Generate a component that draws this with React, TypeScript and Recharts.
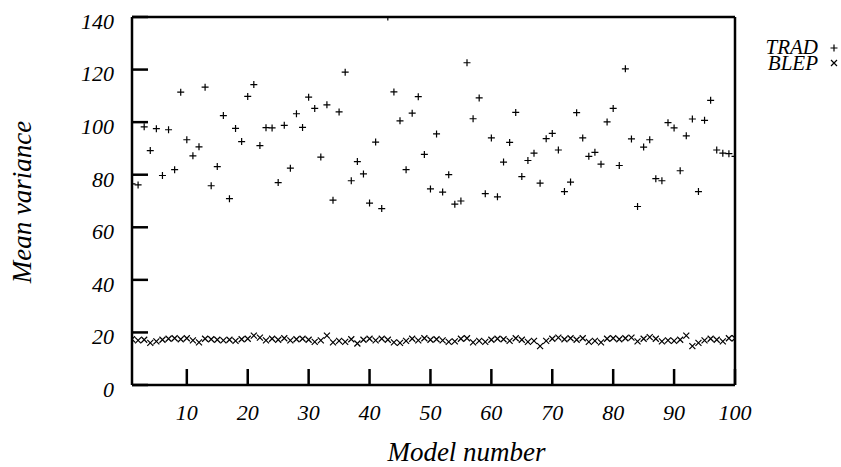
import React from 'react';
import { ScatterChart, Scatter, XAxis, YAxis, Legend } from 'recharts';

// Model numbers along the x axis
const modelNumbers = [
  1, 2, 3, 4, 5, 6, 7, 8, 9, 10,
  11, 12, 13, 14, 15, 16, 17, 18, 19, 20,
  21, 22, 23, 24, 25, 26, 27, 28, 29, 30,
  31, 32, 33, 34, 35, 36, 37, 38, 39, 40,
  41, 42, 43, 44, 45, 46, 47, 48, 49, 50,
  51, 52, 53, 54, 55, 56, 57, 58, 59, 60,
  61, 62, 63, 64, 65, 66, 67, 68, 69, 70,
  71, 72, 73, 74, 75, 76, 77, 78, 79, 80,
  81, 82, 83, 84, 85, 86, 87, 88, 89, 90,
  91, 92, 93, 94, 95, 96, 97, 98, 99, 100,
];

// Mean variance of the traditional estimator, one per model
const tradVariance = [
  76.5, 76.1, 98.2, 89.2, 97.5, 79.7, 97.1, 81.9, 111.4, 93.3,
  87.2, 90.6, 113.3, 75.8, 83.1, 102.5, 70.9, 97.6, 92.6, 109.8,
  114.3, 91.1, 97.9, 97.8, 77.0, 98.8, 82.5, 103.2, 98.0, 109.5,
  105.2, 86.7, 106.6, 70.3, 103.9, 119.0, 77.7, 85.0, 80.3, 69.2,
  92.4, 67.1, 140.0, 111.5, 100.5, 81.9, 103.4, 109.7, 87.7, 74.6,
  95.5, 73.4, 80.0, 68.8, 70.0, 122.6, 101.3, 109.2, 72.8, 94.0,
  71.6, 84.8, 92.3, 103.7, 79.3, 85.4, 88.2, 76.8, 93.7, 95.7,
  89.4, 73.6, 77.2, 103.6, 94.0, 87.0, 88.5, 84.0, 100.1, 105.2,
  83.5, 120.3, 93.6, 67.9, 90.5, 93.3, 78.5, 77.7, 99.8, 97.8,
  81.5, 94.8, 101.2, 73.6, 100.7, 108.3, 89.4, 88.2, 88.0, 87.0,
];

// Mean variance of the BLEP estimator, one per model
const blepVariance = [
  17.4, 17.0, 17.2, 16.0, 16.6, 17.2, 17.6, 17.8, 17.4, 17.8,
  17.0, 16.2, 17.6, 17.4, 17.2, 17.0, 17.2, 16.8, 17.4, 17.6,
  18.8, 18.0, 17.0, 17.6, 17.2, 17.8, 17.0, 17.4, 17.6, 17.2,
  16.4, 17.0, 18.8, 16.2, 16.8, 16.4, 17.4, 15.8, 17.2, 17.6,
  17.0, 17.6, 17.2, 16.2, 16.0, 16.8, 17.6, 17.0, 17.8, 17.2,
  17.4, 17.0, 16.4, 16.6, 17.6, 17.8, 16.2, 16.8, 16.4, 17.2,
  17.6, 17.4, 16.8, 17.8, 17.2, 16.4, 16.8, 14.8, 16.8, 17.6,
  18.0, 17.4, 17.8, 17.2, 17.8, 16.4, 16.8, 16.2, 17.6, 17.8,
  17.4, 17.8, 18.0, 16.6, 17.6, 18.2, 17.6, 16.6, 17.0, 16.8,
  17.2, 18.8, 14.8, 16.0, 17.0, 17.6, 17.2, 16.6, 17.8, 17.8,
];

const xTicks = [10, 20, 30, 40, 50, 60, 70, 80, 90, 100];
const yTicks = [0, 20, 40, 60, 80, 100, 120, 140];

const tradData = modelNumbers.map((m, i) => ({ model: m, value: tradVariance[i] }));
const blepData = modelNumbers.map((m, i) => ({ model: m, value: blepVariance[i] }));

const FONT = 'Liberation Serif';
const frameLine = { stroke: '#000', strokeWidth: 2.5 };
const tickStyle = { fill: '#000', fontSize: 22, fontStyle: 'italic', fontFamily: FONT };
const titleStyle = { fill: '#000', fontSize: 27, fontStyle: 'italic', fontFamily: FONT };

const PlusMark = (props: any) => {
  const { cx, cy } = props;
  if (cx == null || cy == null) return <g />;
  const r = 3.5;
  return (
    <path
      d={`M${cx - r},${cy}H${cx + r}M${cx},${cy - r}V${cy + r}`}
      stroke="#000"
      strokeWidth={1.2}
      fill="none"
    />
  );
};

const CrossMark = (props: any) => {
  const { cx, cy } = props;
  if (cx == null || cy == null) return <g />;
  const r = 3;
  return (
    <path
      d={`M${cx - r},${cy - r}L${cx + r},${cy + r}M${cx - r},${cy + r}L${cx + r},${cy - r}`}
      stroke="#000"
      strokeWidth={1.2}
      fill="none"
    />
  );
};

const XTitle = (props: any) => {
  const vb = props.viewBox || {};
  return (
    <text
      x={vb.x + vb.width / 2 + 33}
      y={vb.y + 67}
      textAnchor="middle"
      dominantBaseline="central"
      fill="#000"
      fontSize={titleStyle.fontSize}
      fontStyle="italic"
      fontFamily={FONT}
    >
      Model number
    </text>
  );
};

const YTitle = (props: any) => {
  const vb = props.viewBox || {};
  const x = vb.x + 22;
  const y = vb.y + vb.height / 2 + 1;
  return (
    <text
      x={x}
      y={y}
      transform={`rotate(-90, ${x}, ${y})`}
      textAnchor="middle"
      dominantBaseline="central"
      fill="#000"
      fontSize={titleStyle.fontSize}
      fontStyle="italic"
      fontFamily={FONT}
    >
      Mean variance
    </text>
  );
};

const legendRows = [
  { name: 'TRAD', Mark: PlusMark },
  { name: 'BLEP', Mark: CrossMark },
];

const KeyBox = () => (
  <div style={{ fontFamily: FONT, fontSize: 21, fontStyle: 'italic', color: '#000' }}>
    {legendRows.map(({ name, Mark }) => (
      <div key={name} style={{ display: 'flex', alignItems: 'center', height: 15.5, lineHeight: '15.5px' }}>
        <span style={{ width: 77, textAlign: 'right', whiteSpace: 'nowrap' }}>{name}</span>
        <svg width={14} height={14} style={{ marginLeft: 9, overflow: 'visible' }}>
          <Mark cx={7} cy={7} />
        </svg>
      </div>
    ))}
  </div>
);

export default function App() {
  return (
    <div style={{ position: 'absolute', left: 0, top: 0, width: 841, height: 467, background: '#fff' }}>
      <ScatterChart width={841} height={467} margin={{ top: 12, right: 96, bottom: 42, left: 0 }}>
        <XAxis
          xAxisId="b"
          dataKey="model"
          type="number"
          domain={[1, 100]}
          ticks={xTicks}
          allowDataOverflow
          height={40}
          tickSize={-16}
          tickMargin={35}
          axisLine={frameLine}
          tickLine={frameLine}
          tick={tickStyle}
          label={<XTitle />}
        />
        <XAxis
          xAxisId="t"
          orientation="top"
          type="number"
          domain={[1, 100]}
          ticks={xTicks}
          allowDataOverflow
          height={5}
          tickSize={-16}
          axisLine={frameLine}
          tickLine={frameLine}
          tick={false}
        />
        <YAxis
          yAxisId="l"
          dataKey="value"
          type="number"
          domain={[0, 140]}
          ticks={yTicks}
          allowDataOverflow
          width={132}
          tickSize={-16}
          tickMargin={34}
          axisLine={frameLine}
          tickLine={frameLine}
          tick={{ ...tickStyle, dy: 4 }}
          label={<YTitle />}
        />
        <YAxis
          yAxisId="r"
          orientation="right"
          type="number"
          domain={[0, 140]}
          ticks={yTicks}
          allowDataOverflow
          width={10}
          tickSize={-16}
          axisLine={frameLine}
          tickLine={frameLine}
          tick={false}
        />
        <Legend
          layout="vertical"
          align="center"
          verticalAlign="middle"
          wrapperStyle={{ position: 'absolute', left: 742, top: 40, width: 99 }}
          content={() => <KeyBox />}
        />
        <Scatter
          name="TRAD"
          data={tradData}
          xAxisId="b"
          yAxisId="l"
          shape={PlusMark}
          isAnimationActive={false}
        />
        <Scatter
          name="BLEP"
          data={blepData}
          xAxisId="b"
          yAxisId="l"
          shape={CrossMark}
          isAnimationActive={false}
        />
      </ScatterChart>
    </div>
  );
}
